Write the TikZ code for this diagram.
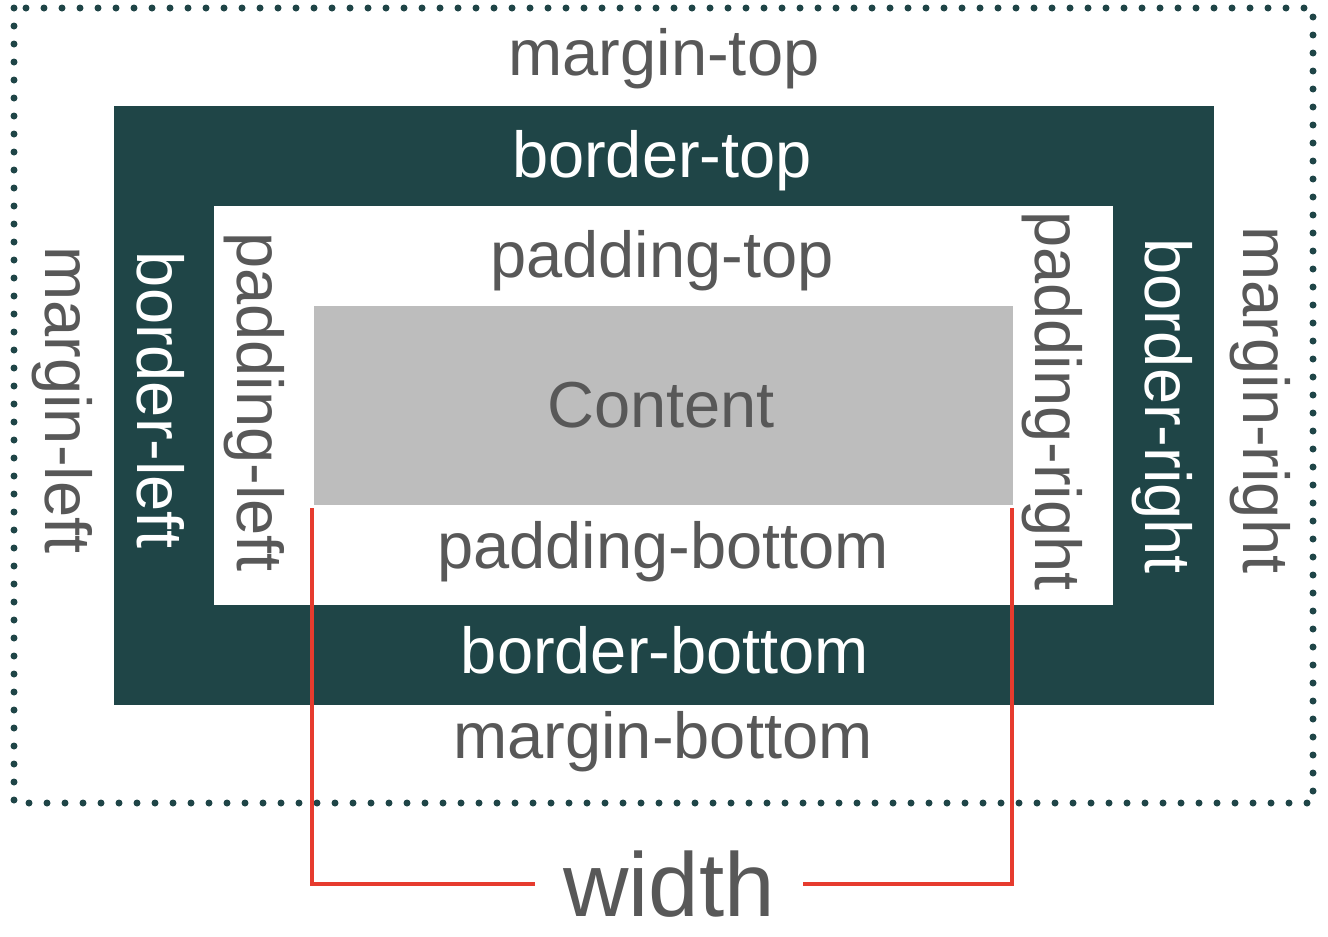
\documentclass[tikz,border=0pt]{standalone}
\usepackage{fontspec}
\setmainfont{Liberation Sans}
\definecolor{teal}{HTML}{1F4547}
\definecolor{contentgray}{HTML}{BDBDBD}
\definecolor{txtgray}{HTML}{585858}
\definecolor{redline}{HTML}{E63B2E}
\tikzset{
  lbl/.style={anchor=base, inner sep=0pt, text=txtgray, font=\fontsize{48.75}{58}\selectfont},
  wlbl/.style={lbl, text=white},
  vert/.style={rotate=-90},
  dotline/.style={draw=teal, line width=5.25pt, line cap=round, dash pattern=on 0pt off 13.5pt},
  widthline/.style={draw=redline, line width=3pt}
}
\begin{document}
\begin{tikzpicture}[x=0.75pt, y=-0.75pt]
\useasboundingbox (0,0) rectangle (1328,936);
% margin box
\draw[dotline] (14,8) rectangle (1313,803);
% border box
\fill[teal] (114,106) rectangle (1214,705);
% padding box
\fill[white] (214,206) rectangle (1113,605);
% content box
\fill[contentgray] (314,306) rectangle (1013,505);
% labels
\node[lbl] (mt) at (664,75) {margin-top};
\node[wlbl] (bt) at (662,177) {border-top};
\node[lbl] (pt) at (662,277) {padding-top};
\node[lbl] (ct) at (661,427) {Content};
\node[lbl] (pb) at (663,568) {padding-bottom};
\node[wlbl] (bb) at (665,673) {border-bottom};
\node[lbl] (mb) at (663,758) {margin-bottom};
\node[lbl, vert] (ml) at (45,400) {margin-left};
\node[wlbl, vert] (bl) at (137,400) {border-left};
\node[lbl, vert] (pl) at (237,402) {padding-left};
\node[lbl, vert] (pr) at (1035,401) {padding-right};
\node[wlbl, vert] (br) at (1145,406) {border-right};
\node[lbl, vert] (mr) at (1243,400) {margin-right};
% width
\node[anchor=center, inner ysep=0pt, inner xsep=21pt, text=txtgray, font=\fontsize{68}{80}\selectfont] (w) at (669,884) {width};
\coordinate (wl) at (312,508);
\coordinate (wr) at (1012,508);
\draw[widthline] (wl) |- (w.west);
\draw[widthline] (wr) |- (w.east);
\end{tikzpicture}
\end{document}
